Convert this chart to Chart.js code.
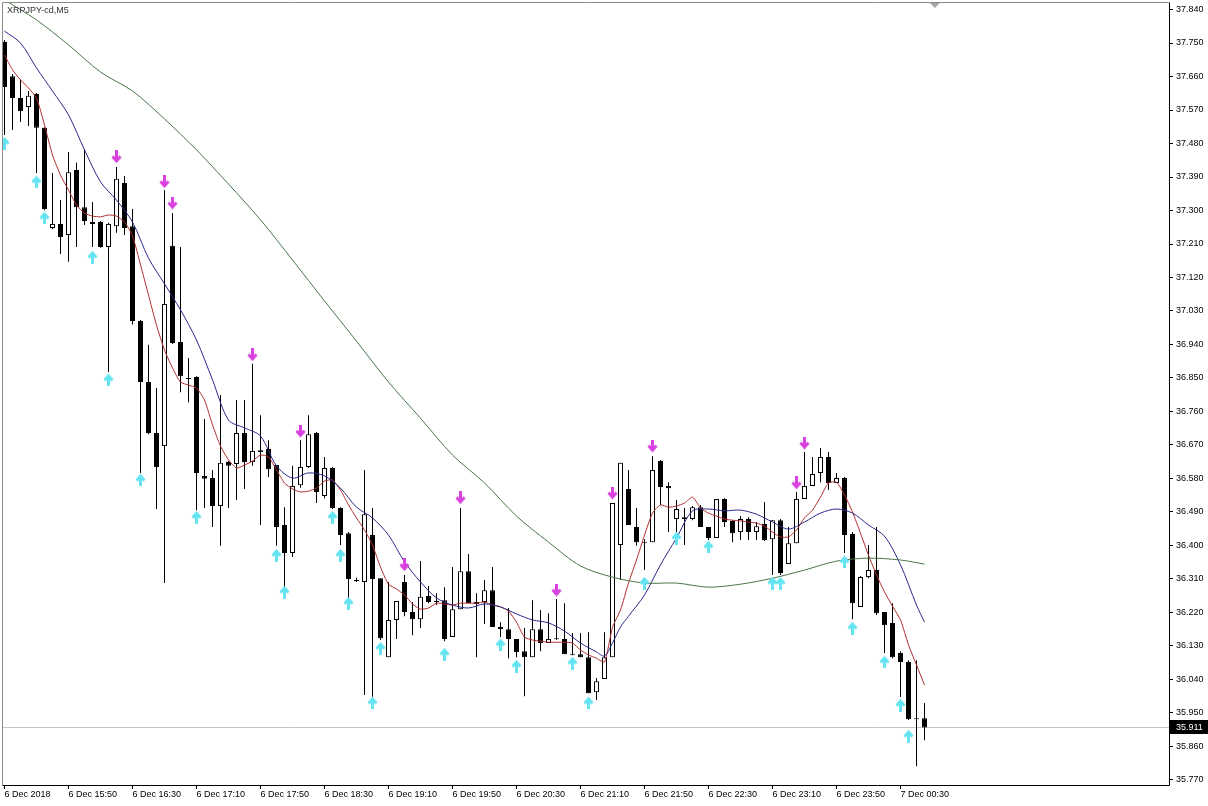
<!DOCTYPE html>
<html>
<head>
<meta charset="utf-8">
<script src="https://cdn.jsdelivr.net/npm/chart.js@4.4.0/dist/chart.umd.min.js"></script>
<style>
  html, body { margin: 0; padding: 0; background: #fff; }
  #wrap { position: relative; width: 1208px; height: 806px; }
</style>
</head>
<body>
<div id="wrap"><canvas id="chart"></canvas></div>
<script>
const chartTitle = "XRPJPY-cd,M5";

// M5 bars, 6 Dec 15:10 .. 7 Dec 00:45
const opens = [
  37.753,37.661,37.602,37.578,37.613,37.522,37.253,37.264,37.234,37.409,
  37.309,37.264,37.269,37.202,37.258,37.374,37.258,37.003,36.839,36.702,
  36.667,37.205,36.947,36.850,36.853,36.587,36.581,36.506,36.624,36.619,
  36.702,36.624,36.656,36.659,36.616,36.455,36.380,36.562,36.611,36.702,
  36.533,36.608,36.501,36.433,36.307,36.302,36.428,36.312,36.100,36.200,
  36.302,36.221,36.202,36.264,36.251,36.253,36.154,36.229,36.331,36.243,
  36.248,36.280,36.181,36.175,36.149,36.116,36.100,36.175,36.138,36.151,
  36.149,36.108,36.108,36.100,36.006,36.041,36.100,36.401,36.552,36.450,
  36.409,36.409,36.627,36.560,36.471,36.476,36.471,36.503,36.450,36.420,
  36.525,36.466,36.436,36.471,36.436,36.458,36.417,36.468,36.350,36.406,
  36.525,36.560,36.595,36.638,36.568,36.581,36.431,36.235,36.315,36.334,
  36.221,36.192,36.111,36.087,35.936,35.936
];
const highs = [
  37.758,37.667,37.651,37.621,37.616,37.524,37.401,37.328,37.457,37.428,
  37.465,37.323,37.272,37.267,37.417,37.393,37.304,37.006,36.939,36.823,
  37.355,37.293,37.202,36.904,36.855,36.740,36.603,36.804,36.627,36.791,
  36.791,36.888,36.750,36.683,36.616,36.503,36.614,36.683,36.750,36.705,
  36.638,36.611,36.503,36.436,36.313,36.603,36.501,36.312,36.302,36.251,
  36.321,36.248,36.358,36.291,36.272,36.288,36.342,36.501,36.377,36.272,
  36.307,36.342,36.194,36.232,36.149,36.178,36.253,36.227,36.218,36.256,
  36.245,36.165,36.165,36.167,36.044,36.167,36.514,36.622,36.603,36.501,
  36.417,36.640,36.630,36.570,36.522,36.501,36.506,36.509,36.450,36.525,
  36.527,36.468,36.479,36.476,36.463,36.517,36.468,36.471,36.450,36.544,
  36.651,36.638,36.662,36.651,36.595,36.584,36.436,36.318,36.401,36.450,
  36.221,36.245,36.116,36.092,36.092,35.977
];
const lows = [
  37.503,37.516,37.538,37.527,37.401,37.301,37.250,37.183,37.162,37.202,
  37.261,37.202,37.200,36.866,37.240,37.234,36.994,36.595,36.699,36.498,
  36.299,36.941,36.812,36.785,36.495,36.501,36.450,36.399,36.501,36.522,
  36.552,36.614,36.455,36.584,36.399,36.272,36.369,36.555,36.608,36.514,
  36.527,36.498,36.401,36.253,36.302,35.998,35.990,36.146,36.100,36.149,
  36.210,36.159,36.178,36.245,36.240,36.143,36.154,36.229,36.245,36.100,
  36.189,36.181,36.154,36.097,36.100,35.995,36.100,36.116,36.138,36.146,
  36.108,36.105,36.100,36.003,35.985,36.041,36.100,36.307,36.455,36.399,
  36.334,36.409,36.509,36.436,36.436,36.401,36.468,36.450,36.415,36.420,
  36.450,36.409,36.415,36.415,36.415,36.412,36.321,36.321,36.350,36.406,
  36.525,36.560,36.570,36.549,36.568,36.380,36.202,36.235,36.312,36.213,
  36.111,36.097,35.993,35.931,35.807,35.877
];
const closes = [
  37.632,37.602,37.567,37.608,37.522,37.304,37.264,37.229,37.403,37.309,
  37.272,37.269,37.202,37.264,37.385,37.253,37.003,36.839,36.702,36.611,
  37.049,36.944,36.855,36.847,36.595,36.579,36.506,36.622,36.614,36.702,
  36.624,36.654,36.651,36.605,36.450,36.380,36.560,36.611,36.699,36.544,
  36.608,36.501,36.428,36.310,36.304,36.484,36.310,36.151,36.200,36.251,
  36.221,36.202,36.262,36.248,36.248,36.149,36.229,36.331,36.245,36.248,
  36.280,36.181,36.175,36.149,36.114,36.100,36.175,36.138,36.149,36.148,
  36.108,36.105,36.100,36.003,36.035,36.100,36.514,36.622,36.455,36.409,
  36.406,36.603,36.557,36.554,36.498,36.471,36.503,36.450,36.420,36.525,
  36.463,36.433,36.471,36.436,36.452,36.415,36.468,36.326,36.406,36.525,
  36.560,36.592,36.638,36.568,36.581,36.428,36.245,36.315,36.334,36.218,
  36.186,36.100,36.087,35.933,35.933,35.911
];

// moving averages
const fastMA = [
  37.718,37.678,37.651,37.629,37.602,37.530,37.449,37.395,37.355,37.315,
  37.293,37.285,37.283,37.288,37.285,37.269,37.232,37.154,37.073,36.992,
  36.925,36.877,36.839,36.831,36.823,36.791,36.724,36.667,36.630,36.608,
  36.616,36.627,36.643,36.638,36.603,36.568,36.552,36.544,36.546,36.554,
  36.573,36.576,36.549,36.509,36.474,36.442,36.401,36.342,36.296,36.283,
  36.267,36.243,36.229,36.232,36.245,36.243,36.240,36.245,36.245,36.245,
  36.248,36.240,36.235,36.224,36.194,36.154,36.146,36.143,36.140,36.140,
  36.140,36.138,36.119,36.106,36.097,36.087,36.180,36.227,36.299,36.361,
  36.428,36.487,36.509,36.503,36.506,36.514,36.530,36.501,36.487,36.479,
  36.471,36.468,36.466,36.463,36.460,36.452,36.436,36.423,36.423,36.442,
  36.474,36.495,36.530,36.568,36.570,36.536,36.490,36.433,36.374,36.321,
  36.275,36.237,36.200,36.133,36.079,36.025
];
const midIdx = [0,2,4,6,8,10,12,14,16,18,20,22,24,26,28,30,32,34,36,38,40,42,44,46,48,50,52,54,56,58,
  60,62,64,66,68,70,72,74,75,76,77,78,80,82,84,86,88,90,92,94,96,98,100,102,104,106,108,110,112,114,115];
const midMA = [37.782,37.750,37.683,37.621,37.557,37.463,37.377,37.328,37.269,37.172,37.103,37.033,36.952,36.845,
  36.737,36.716,36.694,36.614,36.581,36.595,36.587,36.554,36.503,36.474,36.428,36.356,36.302,36.259,36.240,
  36.232,36.243,36.235,36.216,36.200,36.192,36.170,36.138,36.114,36.103,36.138,36.181,36.210,36.267,36.348,
  36.420,36.493,36.498,36.493,36.495,36.484,36.463,36.444,36.463,36.487,36.498,36.487,36.455,36.425,36.348,
  36.240,36.194];
const slowIdx = [0,4,8,12,16,20,24,28,32,36,40,44,48,52,56,60,64,68,72,76,80,84,88,92,96,100,104,108,112,115];
const slowMA = [37.866,37.812,37.745,37.672,37.621,37.546,37.463,37.371,37.275,37.167,37.057,36.949,36.839,
  36.742,36.643,36.568,36.479,36.409,36.345,36.315,36.299,36.299,36.288,36.296,36.312,36.334,36.358,36.366,
  36.361,36.350];

// signal arrows
const upIdx = [0,4,5,11,13,17,24,34,35,41,42,43,46,47,55,62,64,71,73,80,84,88,96,97,105,106,110,112,113];
const upVals = [37.481,37.377,37.280,37.175,36.845,36.576,36.476,36.374,36.275,36.476,36.374,36.245,35.977,
  36.124,36.108,36.133,36.076,36.084,35.977,36.299,36.420,36.396,36.299,36.299,36.356,36.178,36.087,35.971,35.888];
const downIdx = [14,20,21,31,37,50,57,69,76,81,99,100];
const downVals = [37.444,37.377,37.320,36.912,36.707,36.348,36.528,36.280,36.541,36.667,36.568,36.675];

const priceTicks = [37.840,37.750,37.660,37.570,37.480,37.390,37.300,37.210,37.120,37.030,36.940,36.850,
  36.760,36.670,36.580,36.490,36.400,36.310,36.220,36.130,36.040,35.950,35.860,35.770];
const timeTickIdx = [0,8,16,24,32,40,48,56,64,72,80,88,96,104,112];
const timeLabels = ["6 Dec 2018","6 Dec 15:50","6 Dec 16:30","6 Dec 17:10","6 Dec 17:50","6 Dec 18:30",
  "6 Dec 19:10","6 Dec 19:50","6 Dec 20:30","6 Dec 21:10","6 Dec 21:50","6 Dec 22:30","6 Dec 23:10",
  "6 Dec 23:50","7 Dec 00:30"];

const lastPrice = closes[closes.length - 1];
const shiftMarkAt = 116.3;
const FONT = '"Liberation Sans", Arial, sans-serif';

function makeArrow(color, up) {
  const c = document.createElement("canvas");
  c.width = 11;
  c.height = 13;
  const g = c.getContext("2d");
  if (!up) { g.translate(0, 13); g.scale(1, -1); }
  g.strokeStyle = color;
  g.lineWidth = 3;
  g.beginPath();
  g.moveTo(1.5, 7); g.lineTo(5.5, 2.5); g.lineTo(9.5, 7);
  g.stroke();
  g.beginPath();
  g.moveTo(5.5, 3); g.lineTo(5.5, 13);
  g.stroke();
  return c;
}

// no automatic label overhang padding, the frame sits at fixed pixels
function noPad(s) {
  s.paddingLeft = 0;
  s.paddingRight = 0;
  s.paddingTop = 0;
  s.paddingBottom = 0;
}

const chartDecor = {
  id: "chartDecor",
  beforeDatasetsDraw(chart) {
    const { ctx, chartArea: a, scales: { y } } = chart;
    const py = Math.round(y.getPixelForValue(lastPrice)) + 0.5;
    ctx.save();
    ctx.strokeStyle = "#c4c4c4";
    ctx.lineWidth = 1;
    ctx.beginPath();
    ctx.moveTo(a.left, py);
    ctx.lineTo(a.right, py);
    ctx.stroke();
    ctx.restore();
  },
  afterDraw(chart) {
    const { ctx, chartArea: a, scales: { x, y } } = chart;
    ctx.save();
    ctx.lineWidth = 1;
    ctx.strokeStyle = "#8a8a8a";
    ctx.beginPath();
    ctx.moveTo(a.left - 0.5, a.bottom);
    ctx.lineTo(a.left - 0.5, a.top - 0.5);
    ctx.lineTo(a.right, a.top - 0.5);
    ctx.stroke();
    ctx.strokeStyle = "#000";
    ctx.beginPath();
    ctx.moveTo(a.left - 0.5, a.bottom + 0.5);
    ctx.lineTo(a.right + 0.5, a.bottom + 0.5);
    ctx.lineTo(a.right + 0.5, a.top - 0.5);
    ctx.stroke();

    ctx.font = "9px " + FONT;
    ctx.textBaseline = "middle";
    ctx.textAlign = "left";
    ctx.fillStyle = "#333";
    ctx.fillText(chartTitle, a.left + 4, a.top + 8);

    const sx = x.getPixelForValue(shiftMarkAt);
    ctx.fillStyle = "#a8a8a8";
    ctx.beginPath();
    ctx.moveTo(sx - 5, a.top);
    ctx.lineTo(sx + 5, a.top);
    ctx.lineTo(sx, a.top + 5);
    ctx.closePath();
    ctx.fill();

    const py = Math.round(y.getPixelForValue(lastPrice));
    ctx.fillStyle = "#000";
    ctx.fillRect(a.right + 1, py - 7, 38, 14);
    ctx.fillStyle = "#fff";
    ctx.fillText(lastPrice.toFixed(3), a.right + 7, py + 0.5);
    ctx.restore();
  }
};

const bodyColors = opens.map((o, i) => (closes[i] >= o ? "#fff" : "#000"));

new Chart(document.getElementById("chart"), {
  type: "bar",
  data: {
    datasets: [
      {
        type: "line",
        data: upIdx.map((v, k) => ({ x: v, y: upVals[k] })),
        showLine: false,
        pointStyle: makeArrow("rgb(100,228,240)", true),
        pointRadius: 5,
        order: 0,
      },
      {
        type: "line",
        data: downIdx.map((v, k) => ({ x: v, y: downVals[k] })),
        showLine: false,
        pointStyle: makeArrow("rgb(218,64,224)", false),
        pointRadius: 5,
        order: 0,
      },
      {
        type: "line",
        data: slowMA.map((v, k) => ({ x: slowIdx[k], y: v })),
        borderColor: "rgb(72,118,72)",
        borderWidth: 1,
        pointRadius: 0,
        tension: 0.3,
        order: 1,
      },
      {
        type: "line",
        data: midMA.map((v, k) => ({ x: midIdx[k], y: v })),
        borderColor: "rgb(40,40,140)",
        borderWidth: 1,
        pointRadius: 0,
        tension: 0.3,
        order: 1,
      },
      {
        type: "line",
        data: fastMA.map((v, i) => ({ x: i, y: v })),
        borderColor: "rgb(176,44,44)",
        borderWidth: 1,
        pointRadius: 0,
        tension: 0.2,
        order: 1,
      },
      {
        type: "bar",
        data: opens.map((o, i) => ({ x: i, y: [o, closes[i]] })),
        backgroundColor: bodyColors,
        borderColor: "#000",
        borderWidth: 1,
        borderSkipped: false,
        barThickness: 5,
        grouped: false,
        inflateAmount: 0,
        order: 2,
      },
      {
        type: "bar",
        data: lows.map((l, i) => ({ x: i, y: [l, highs[i]] })),
        backgroundColor: "#000",
        borderWidth: 0,
        barThickness: 1,
        grouped: false,
        inflateAmount: 0,
        order: 3,
      },
    ],
  },
  options: {
    responsive: true,
    maintainAspectRatio: false,
    animation: false,
    events: [],
    layout: { autoPadding: false, padding: { left: 3, top: 3, right: 0, bottom: 0 } },
    plugins: { legend: { display: false }, tooltip: { enabled: false } },
    scales: {
      x: {
        type: "linear",
        min: -0.1875,
        max: 145.5625,
        offset: false,
        border: { display: false },
        grid: { drawOnChartArea: false, drawTicks: true, tickLength: 4, color: "#000", offset: false },
        afterBuildTicks: (s) => { s.ticks = timeTickIdx.map((v) => ({ value: v })); },
        afterFit: (s) => { s.height = 21; noPad(s); },
        ticks: {
          autoSkip: false,
          maxRotation: 0,
          align: "start",
          padding: 0,
          color: "#000",
          font: { family: FONT, size: 9 },
          callback: (v, i) => timeLabels[i],
        },
      },
      y: {
        type: "linear",
        position: "right",
        min: 35.7565,
        max: 37.8575,
        border: { display: false },
        grid: { drawOnChartArea: false, drawTicks: true, tickLength: 4, color: "#000" },
        afterBuildTicks: (s) => { s.ticks = priceTicks.map((v) => ({ value: v })); },
        afterFit: (s) => { s.width = 39; noPad(s); },
        ticks: {
          autoSkip: false,
          padding: 3,
          color: "#000",
          font: { family: FONT, size: 9 },
          callback: (v) => Number(v).toFixed(3),
        },
      },
    },
  },
  plugins: [chartDecor],
});
</script>
</body>
</html>
